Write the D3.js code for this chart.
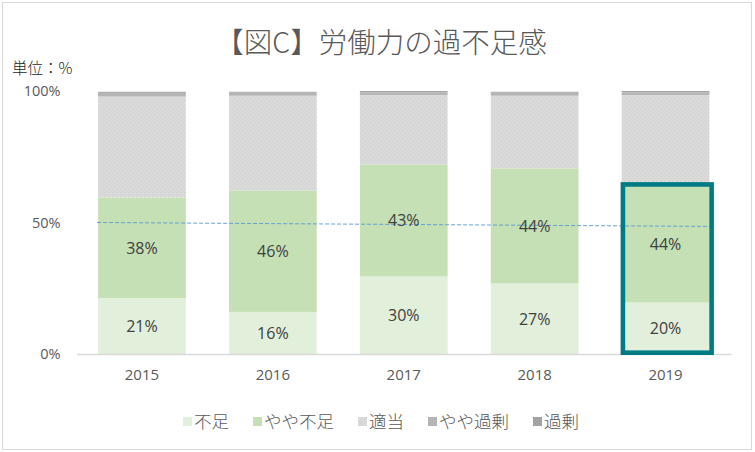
<!DOCTYPE html>
<html>
<head>
<meta charset="utf-8">
<script src="https://cdn.jsdelivr.net/npm/d3@7"></script>
<style>
  html, body { margin: 0; padding: 0; background: #fff; }
  svg { display: block; }
</style>
</head>
<body>
<svg id="chart" width="755" height="452"></svg>
<script>
// ---- data ----
const years = ["2015", "2016", "2017", "2018", "2019"];
const seriesNames = ["不足", "やや不足", "適当", "やや過剰", "過剰"];
const shortage       = [21.3, 16.0, 29.5, 26.8, 19.6];
const slightShortage = [38.2, 46.2, 42.6, 43.8, 44.3];
const adequate       = [38.4, 36.0, 26.4, 27.6, 34.6];
const slightSurplus  = [1.4, 1.4, 1.0, 1.4, 1.0];
const surplus        = [0.4, 0.1, 0.5, 0.1, 0.5];
const yTicks = [0, 50, 100];
const labeledSeries = ["不足", "やや不足"];
const highlightYear = "2019";
const refLine = [50, 48.5]; // dashed reference line, % at first and last bar
const titleText = "【図C】労働力の過不足感";
const unitText = "単位：%";

const seriesValues = [shortage, slightShortage, adequate, slightSurplus, surplus];
const rows = years.map((y, i) => {
  const r = { year: y };
  seriesNames.forEach((s, k) => r[s] = seriesValues[k][i]);
  return r;
});

// ---- layout ----
const svg = d3.select("#chart");
const plot = { left: 76.5, right: 731, top: 91, bottom: 354 };
const fontJP = "'Noto Sans CJK JP', 'Noto Sans', sans-serif";
const fontNum = "'Open Sans', 'Noto Sans', sans-serif";

// patterns
const defs = svg.append("defs");
function dotPattern(id, base, dot) {
  const p = defs.append("pattern").attr("id", id).attr("patternUnits", "userSpaceOnUse")
    .attr("width", 4).attr("height", 4);
  p.append("rect").attr("width", 4).attr("height", 4).attr("fill", base);
  p.append("rect").attr("x", 0).attr("y", 0).attr("width", 1).attr("height", 1).attr("fill", dot);
  p.append("rect").attr("x", 2).attr("y", 2).attr("width", 1).attr("height", 1).attr("fill", dot);
}
dotPattern("pAdequate", "#dadada", "#cdcdcd");
dotPattern("pSlightSurplus", "#b6b6b6", "#ababab");
dotPattern("pSurplus", "#a5a5a5", "#939393");

const colors = {
  "不足": "#e2efda",
  "やや不足": "#c5e0b4",
  "適当": "url(#pAdequate)",
  "やや過剰": "url(#pSlightSurplus)",
  "過剰": "url(#pSurplus)"
};

// frame
svg.append("rect").attr("x", 2.5).attr("y", 2.5).attr("width", 749).attr("height", 447)
  .attr("fill", "#fff").attr("stroke", "#d9d9d9").attr("stroke-width", 1);

const x = d3.scaleBand().domain(years).range([plot.left, plot.right]).paddingInner(0.33).paddingOuter(0.165);
const y = d3.scaleLinear().domain([0, 100]).range([plot.bottom, plot.top]);

const stacked = d3.stack().keys(seriesNames)(rows);

// bars
svg.append("g").selectAll("g.series").data(stacked).join("g").attr("class", "series")
  .attr("fill", d => colors[d.key])
  .selectAll("rect").data(d => d).join("rect")
  .attr("x", d => x(d.data.year))
  .attr("width", x.bandwidth())
  .attr("y", d => y(d[1]))
  .attr("height", d => y(d[0]) - y(d[1]));

// baseline axis
const xAxis = svg.append("g").attr("transform", `translate(0,${plot.bottom})`)
  .call(d3.axisBottom(x).tickSize(0).tickPadding(15));
xAxis.select(".domain").attr("stroke", "#d9d9d9").attr("stroke-width", 1.5);
xAxis.selectAll("text").attr("font-family", fontNum).attr("font-size", 15).attr("fill", "#595959");

const yAxis = svg.append("g").attr("transform", `translate(${plot.left - 16},0)`)
  .call(d3.axisLeft(y).tickValues(yTicks).tickSize(0).tickPadding(0).tickFormat(d => d + "%"));
yAxis.select(".domain").remove();
yAxis.selectAll("text").attr("font-family", fontNum).attr("font-size", 14.5).attr("fill", "#595959");

// dashed reference line
const lastYear = years[years.length - 1];
svg.append("line")
  .attr("x1", x(years[0]) - 1).attr("y1", y(refLine[0]))
  .attr("x2", x(lastYear) + x.bandwidth() + 4).attr("y2", y(refLine[1]))
  .attr("stroke", "#5b9bd5").attr("stroke-width", 1).attr("stroke-dasharray", "4,2")
  .attr("opacity", 0.9);

// data labels
stacked.filter(s => labeledSeries.includes(s.key)).forEach(s => {
  svg.append("g").selectAll("text").data(s).join("text")
    .attr("x", d => x(d.data.year) + x.bandwidth() / 2)
    .attr("y", d => (y(d[0]) + y(d[1])) / 2)
    .attr("dy", "0.36em")
    .attr("text-anchor", "middle")
    .attr("font-family", fontNum).attr("font-size", 16).attr("fill", "#404040")
    .text(d => Math.round(d[1] - d[0]) + "%");
});

// highlight box around 2019 shortage portion
const hl = rows.find(r => r.year === highlightYear);
const hlTop = y(hl["不足"] + hl["やや不足"]);
svg.append("rect")
  .attr("x", x(highlightYear) + 1.2)
  .attr("y", hlTop - 1.5)
  .attr("width", x.bandwidth() + 1)
  .attr("height", plot.bottom - hlTop + 0.2)
  .attr("fill", "none").attr("stroke", "#007b83").attr("stroke-width", 4.6);

// title
svg.append("text").attr("x", 381).attr("y", 53).attr("text-anchor", "middle")
  .attr("font-family", fontJP).attr("font-size", 28.5).attr("font-weight", 300).attr("fill", "#595959")
  .text(titleText);

svg.append("text").attr("x", 12).attr("y", 74)
  .attr("font-family", fontJP).attr("font-size", 15.5).attr("font-weight", 300).attr("fill", "#262626")
  .text(unitText);

// legend
const legend = svg.append("g");
const legendItems = legend.selectAll("g").data(seriesNames).join("g");
legendItems.append("rect").attr("width", 9).attr("height", 9).attr("y", -8)
  .attr("fill", d => colors[d]);
legendItems.append("text").attr("x", 11).attr("y", 0)
  .attr("font-family", fontJP).attr("font-size", 17.5).attr("font-weight", 300).attr("fill", "#595959")
  .attr("dy", "0.15em")
  .text(d => d);
let cx = 0;
const gap = 24;
legendItems.each(function () {
  const w = 11 + d3.select(this).select("text").node().getComputedTextLength();
  d3.select(this).attr("transform", `translate(${cx},0)`);
  cx += w + gap;
});
const totalW = cx - gap;
legend.attr("transform", `translate(${381 - totalW / 2},${425})`);
</script>
</body>
</html>
